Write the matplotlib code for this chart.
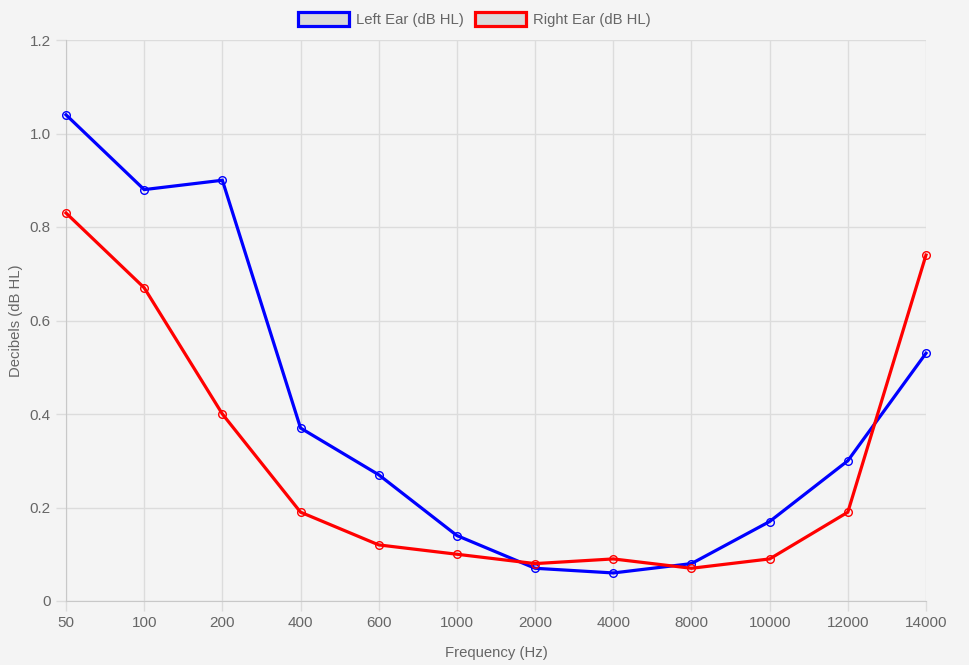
import matplotlib
matplotlib.use("Agg")
import matplotlib.pyplot as plt
from matplotlib.patches import Patch

plt.rcParams['font.family'] = ['Liberation Sans', 'DejaVu Sans']

freqs = ['50', '100', '200', '400', '600', '1000', '2000', '4000', '8000', '10000', '12000', '14000']
left_ear = [1.04, 0.88, 0.90, 0.37, 0.27, 0.14, 0.07, 0.06, 0.08, 0.17, 0.30, 0.53]
right_ear = [0.83, 0.67, 0.40, 0.19, 0.12, 0.10, 0.08, 0.09, 0.07, 0.09, 0.19, 0.74]
y_ticks = [0, 0.2, 0.4, 0.6, 0.8, 1.0, 1.2]
y_labels = ['0', '0.2', '0.4', '0.6', '0.8', '1.0', '1.2']

bg = '#f4f4f4'
txt = '#666666'
grid = '#dcdcdc'

fig = plt.figure(figsize=(9.7, 6.65), dpi=100, facecolor=bg)
ax = fig.add_axes([66 / 970, 64 / 665, 860 / 970, 561 / 665], facecolor=bg)

x = list(range(len(freqs)))
for vals, col in [(left_ear, '#0000ff'), (right_ear, '#ff0000')]:
    ax.plot(x, vals, color=col, lw=2.3, marker='o', ms=5.5,
            mfc='none', mec=col, mew=1.0, solid_joinstyle='miter', clip_on=False, zorder=3)

ax.set_xlim(0, len(freqs) - 1)
ax.set_ylim(0, 1.2)
ax.set_xticks(x)
ax.set_xticklabels(freqs)
ax.set_yticks(y_ticks)
ax.set_yticklabels(y_labels)
ax.grid(True, color=grid, lw=1)
ax.set_axisbelow(True)
for s in ['top', 'right']:
    ax.spines[s].set_visible(False)
for s in ['left', 'bottom']:
    ax.spines[s].set_color('#c8c8c8')
ax.tick_params(colors=grid, labelcolor=txt, labelsize=11, length=7, width=1, pad=4)
ax.set_xlabel('Frequency (Hz)', color=txt, fontsize=10.7, labelpad=11)
ax.set_ylabel('Decibels (dB HL)', color=txt, fontsize=10.7, labelpad=5)

handles = [Patch(facecolor='#d9d9d9', edgecolor='#0000ff', lw=2.3, label='Left Ear (dB HL)'),
           Patch(facecolor='#d9d9d9', edgecolor='#ff0000', lw=2.3, label='Right Ear (dB HL)')]
leg = fig.legend(handles=handles, loc='center', bbox_to_anchor=(0.489, 1 - 19.5 / 665), ncol=2,
                 frameon=False, fontsize=10.7, handlelength=3.4, handleheight=1.1,
                 handletextpad=0.45, columnspacing=0.8, borderpad=0)
for t in leg.get_texts():
    t.set_color(txt)

fig.savefig('out.png', dpi=100, facecolor=bg)
